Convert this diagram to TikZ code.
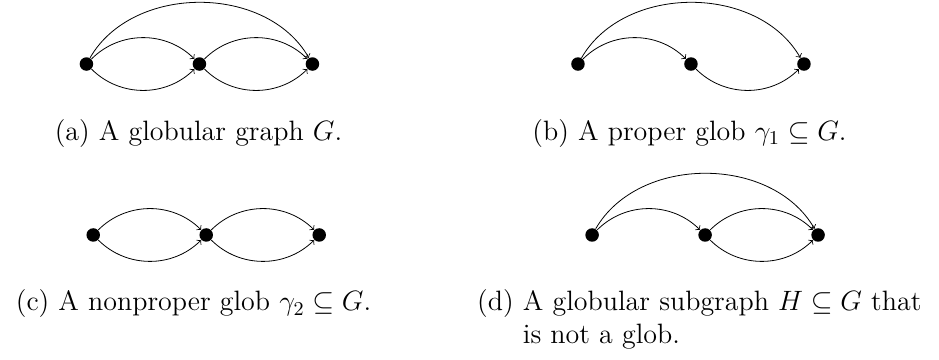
\documentclass[tikz,border=0pt]{standalone}
\usepackage{fix-cm}
\usepackage{amsmath,amssymb}

\begin{document}
\begin{tikzpicture}[vertex/.style={circle, fill, inner sep=0pt, minimum size=6.8pt},
	capt/.style={inner sep=0pt, anchor=base, font=\fontsize{14.1}{16.6}\selectfont}]
	\useasboundingbox (0,0) rectangle (16.62,-6.37);
	% (a) the globular graph
	\node[vertex] (a1) at (1.53,-1.133) {};
	\node[vertex] (a2) at (3.53,-1.133) {};
	\node[vertex] (a3) at (5.53,-1.133) {};
	\draw[->] (a1) to[bend left=45] (a2);
	\draw[->] (a1) to[bend right=45] (a2);
	\draw[->] (a2) to[bend left=45] (a3);
	\draw[->] (a2) to[bend right=45] (a3);
	\draw[->] (a1) to[bend left=60] (a3);
	\node[capt] (capa) at (3.513,-2.478) {(a) A globular graph $G$.};
	% (b) proper glob
	\node[vertex] (b1) at (10.23,-1.133) {};
	\node[vertex] (b2) at (12.23,-1.133) {};
	\node[vertex] (b3) at (14.23,-1.133) {};
	\draw[->] (b1) to[bend left=45] (b2);
	\draw[->] (b2) to[bend right=45] (b3);
	\draw[->] (b1) to[bend left=60] (b3);
	\node[capt] (capb) at (12.204,-2.478) {(b) A proper glob $\gamma_1 \subseteq G$.};
	% (c) nonproper glob
	\node[vertex] (c1) at (1.65,-4.159) {};
	\node[vertex] (c2) at (3.65,-4.159) {};
	\node[vertex] (c3) at (5.65,-4.159) {};
	\draw[->] (c1) to[bend left=45] (c2);
	\draw[->] (c1) to[bend right=45] (c2);
	\draw[->] (c2) to[bend left=45] (c3);
	\draw[->] (c2) to[bend right=45] (c3);
	\node[capt] (capc) at (3.425,-5.504) {(c) A nonproper glob $\gamma_2 \subseteq G$.};
	% (d) subgraph, not a glob
	\node[vertex] (d1) at (10.48,-4.159) {};
	\node[vertex] (d2) at (12.48,-4.159) {};
	\node[vertex] (d3) at (14.48,-4.159) {};
	\draw[->] (d1) to[bend left=45] (d2);
	\draw[->] (d2) to[bend left=45] (d3);
	\draw[->] (d2) to[bend right=45] (d3);
	\draw[->] (d1) to[bend left=60] (d3);
	\node[capt, anchor=base west] (capd) at (8.44,-5.504)
		{\begin{tabular}[t]{@{}l@{\ }l@{}}(d) & A globular subgraph $H \subseteq G$ that\\ & is not a glob.\end{tabular}};
\end{tikzpicture}
\end{document}
